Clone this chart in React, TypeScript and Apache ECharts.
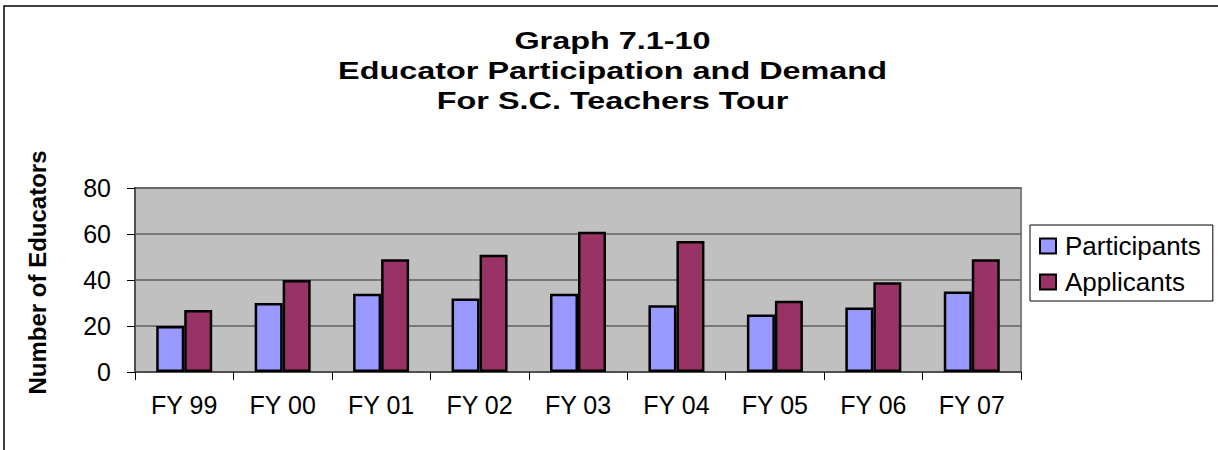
import React, { useEffect, useRef } from "react";
import * as echarts from "echarts";

const categories = ["FY 99", "FY 00", "FY 01", "FY 02", "FY 03", "FY 04", "FY 05", "FY 06", "FY 07"];
const participants = [20, 30, 34, 32, 34, 29, 25, 28, 35];
const applicants = [27, 40, 49, 51, 61, 57, 31, 39, 49];
const titleLines = ["Graph 7.1-10", "Educator Participation and Demand", "For S.C. Teachers Tour"];
const yAxisName = "Number of Educators";

const FONT = "'Liberation Sans', Arial, sans-serif";

export default function App() {
  const ref = useRef<HTMLDivElement>(null);
  useEffect(() => {
    if (!ref.current) return;
    const chart = echarts.init(ref.current, null, { renderer: "svg" });
    const titleYs = [41, 70.5, 101];
    chart.setOption({
      animation: false,
      backgroundColor: "#ffffff",
      textStyle: { fontFamily: FONT, color: "#000" },
      graphic: [
        {
          type: "rect",
          shape: { x: 4, y: 6, width: 1240, height: 470 },
          style: { fill: "none", stroke: "#000", lineWidth: 1.5 },
          silent: true,
        },
        ...titleLines.map((t, i) => ({
          type: "text",
          x: 612.5,
          y: titleYs[i],
          scaleX: 1.35,
          style: {
            text: t,
            fontFamily: FONT,
            fontWeight: "bold",
            fontSize: 24,
            fill: "#000",
            align: "center",
            verticalAlign: "middle",
          },
        })),
      ],
      grid: {
        left: 135,
        top: 188,
        width: 886,
        height: 184,
        show: true,
        backgroundColor: "#C0C0C0",
        borderColor: "#808080",
        borderWidth: 2,
      },
      legend: {
        orient: "vertical",
        left: 1030,
        top: 225,
        padding: [8, 12, 6, 9],
        itemGap: 10,
        itemWidth: 16,
        itemHeight: 15,
        icon: "rect",
        borderColor: "#000",
        borderWidth: 1,
        backgroundColor: "#fff",
        itemStyle: { borderColor: "#000", borderWidth: 2 },
        textStyle: { fontFamily: FONT, fontSize: 26, color: "#000", padding: [0, 0, 0, 4] },
        data: ["Participants", "Applicants"],
      },
      xAxis: {
        type: "category",
        data: categories,
        axisLine: { lineStyle: { color: "#505050", width: 2 } },
        axisTick: { show: true, length: 8, lineStyle: { color: "#000", width: 1 } },
        axisLabel: { fontFamily: FONT, fontSize: 25, color: "#000", margin: 20 },
      },
      yAxis: {
        type: "value",
        min: 0,
        max: 80,
        interval: 20,
        name: yAxisName,
        nameLocation: "middle",
        nameRotate: 90,
        nameGap: 86,
        nameTextStyle: {
          fontFamily: FONT,
          fontSize: 24,
          fontWeight: "bold",
          color: "#000",
          padding: [0, 0, 0, 15],
        },
        axisLine: { show: true, lineStyle: { color: "#505050", width: 2 } },
        axisTick: { show: true, length: 8, lineStyle: { color: "#000", width: 1 } },
        axisLabel: { fontFamily: FONT, fontSize: 25, color: "#000", margin: 24 },
        splitLine: { show: true, lineStyle: { color: "#606060", width: 1.5 } },
      },
      series: [
        {
          name: "Participants",
          type: "bar",
          data: participants,
          barWidth: 28,
          barGap: "0%",
          itemStyle: { color: "#9999FF", borderColor: "#000", borderWidth: 2.5 },
        },
        {
          name: "Applicants",
          type: "bar",
          data: applicants,
          barWidth: 28,
          barGap: "0%",
          itemStyle: { color: "#993366", borderColor: "#000", borderWidth: 2.5 },
        },
      ],
    });
    return () => chart.dispose();
  }, []);
  return (
    <div
      ref={ref}
      style={{ position: "fixed", left: 0, top: 0, width: 1218, height: 450 }}
    />
  );
}
